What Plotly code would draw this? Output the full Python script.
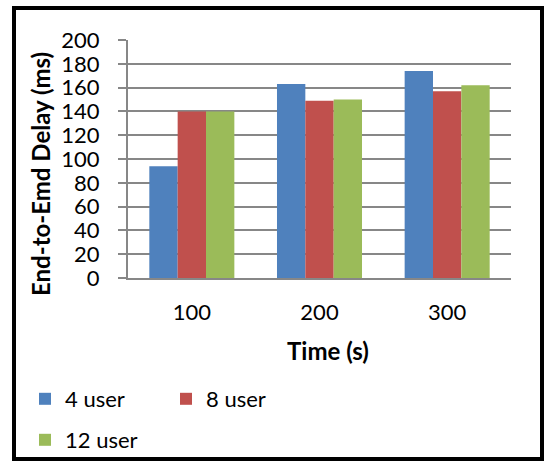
import plotly.graph_objects as go

categories = ["100", "200", "300"]
series_names = ["4 user", "8 user", "12 user"]
user4 = [94, 163, 174]
user8 = [140, 149, 157]
user12 = [140, 150, 162]
y_ticks = list(range(0, 201, 20))
colors = ["#4F81BD", "#C0504D", "#9BBB59"]

W, H = 544, 461
L, R, T, B = 128, 33, 40, 183
pw, ph = W - L - R, H - T - B

def px_x(x):
    return (x - L) / pw

def px_y(y):
    return (H - B - y) / ph

FONT = "Lato"
fig = go.Figure()
for name, vals, col, lg in zip(series_names, [user4, user8, user12], colors, ["legend", "legend", "legend2"]):
    fig.add_trace(go.Bar(x=categories, y=vals, name=name, marker=dict(color=col, line=dict(width=0)), legend=lg))

fig.update_layout(
    width=W, height=H,
    margin=dict(l=L, r=R, t=T, b=B, autoexpand=False),
    paper_bgcolor="white", plot_bgcolor="white",
    barmode="group", bargap=0.334, bargroupgap=0,
    font=dict(family=FONT, size=22, color="black"),
    showlegend=True,
    legend=dict(orientation="h", xref="container", yref="container", x=25 / W, y=1 - 399 / H,
                xanchor="left", yanchor="middle",
                entrywidth=96, font=dict(size=22), bgcolor="rgba(0,0,0,0)"),
    legend2=dict(orientation="h", xref="container", yref="container", x=25 / W, y=1 - 440 / H,
                 xanchor="left", yanchor="middle",
                 font=dict(size=22), bgcolor="rgba(0,0,0,0)"),
)
fig.update_yaxes(range=[0, 200], tickvals=y_ticks, showgrid=True, gridcolor="#878787", gridwidth=2,
                 showline=True, linecolor="#878787", linewidth=2, ticks="outside", ticklen=8,
                 tickcolor="#878787", tickwidth=2, ticklabelstandoff=14, zeroline=False,
                 tickfont=dict(size=22))
fig.update_xaxes(showline=True, linecolor="#878787", linewidth=2, ticks="", ticklabelstandoff=14,
                 tickfont=dict(size=22))

fig.add_annotation(text="<b>Time (s)</b>", xref="paper", yref="paper", x=px_x(328), y=px_y(350),
                   showarrow=False, font=dict(family=FONT, size=24), xanchor="center", yanchor="middle")
fig.add_annotation(text="<b>End-to-Emd Delay (ms)</b>", xref="paper", yref="paper", x=px_x(40), y=px_y(174),
                   showarrow=False, textangle=-90, font=dict(family=FONT, size=24), xanchor="center", yanchor="middle")
fig.add_shape(type="rect", xref="paper", yref="paper", x0=px_x(14), x1=px_x(542), y0=px_y(459), y1=px_y(8),
              line=dict(color="black", width=4), fillcolor="rgba(0,0,0,0)", layer="above")

fig.write_html("out.html", config={"displayModeBar": False},
               post_script="document.body.style.margin='0';document.body.style.overflow='hidden';")
